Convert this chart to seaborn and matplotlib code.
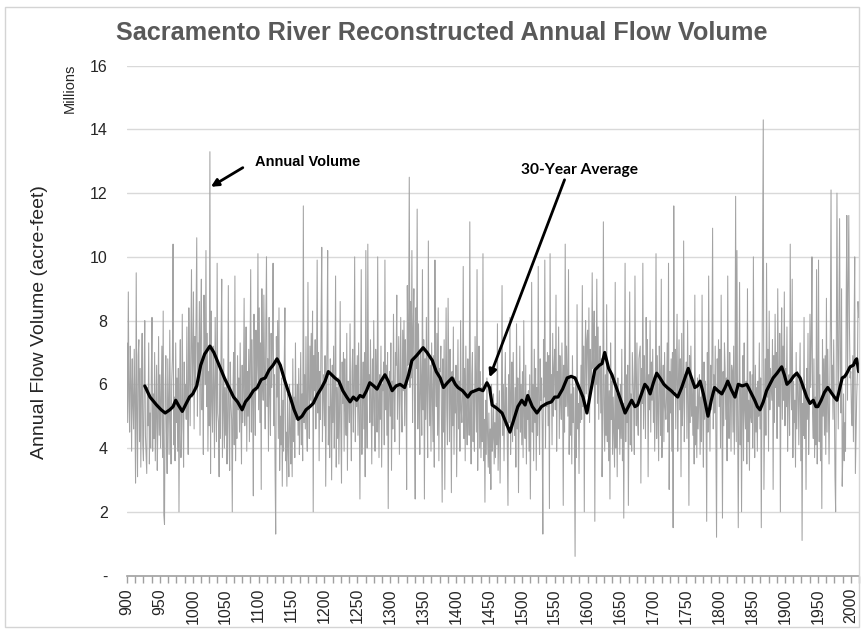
import numpy as np
import pandas as pd
import matplotlib
matplotlib.use("Agg")
import matplotlib.pyplot as plt
from matplotlib.patches import Rectangle
import seaborn as sns

# Reconstructed annual flow volume, millions of acre-feet, one value per year from 900
flow_900s = [
    7.3, 4.8, 8.9, 5.6, 4.5, 7.2, 6.1, 3.9, 6.8, 5.4,
    4.6, 7.1, 5.3, 2.9, 9.5, 5.0, 3.1, 6.9, 7.4, 4.2,
    6.5, 3.4, 5.8, 7.6, 4.1, 3.6, 6.2, 8.0, 4.4, 3.8,
    3.2, 5.9, 4.7, 7.3, 3.5, 5.1, 4.0, 6.4, 8.1, 3.9,
    5.7, 4.3, 7.0, 3.6, 5.2, 6.6, 3.3, 4.8, 7.5, 4.4,
    6.3, 4.0, 5.5, 7.2, 3.7, 8.3, 1.9, 1.6, 5.8, 6.9,
    4.5, 3.2, 6.8, 5.4, 3.8, 7.7, 4.9, 3.5, 6.1, 6.8,
    10.4, 4.1, 5.6, 3.6, 7.3, 4.8, 6.2, 3.9, 6.5, 2.0,
    5.8, 7.4, 3.7, 4.6, 8.2, 5.1, 3.4, 6.7, 5.3, 6.0,
    4.9, 7.8, 5.5, 3.8, 8.4, 6.3, 4.7, 7.1, 9.6, 5.6,
]
flow_1000s = [
    6.8, 8.9, 4.6, 7.5, 5.9, 8.2, 10.6, 5.0, 7.3, 6.1,
    8.6, 4.4, 7.9, 9.3, 5.2, 6.7, 3.8, 8.8, 7.1, 6.0,
    10.2, 5.3, 7.6, 3.9, 6.4, 4.7, 13.3, 3.2, 8.3, 5.5,
    4.5, 7.2, 5.8, 3.7, 8.1, 6.3, 4.2, 9.8, 5.1, 4.8,
    3.1, 6.5, 4.3, 7.4, 9.3, 3.7, 5.2, 6.8, 4.0, 5.9,
    4.4, 6.1, 3.5, 5.0, 9.1, 4.6, 3.3, 6.7, 5.4, 4.9,
    2.0, 5.7, 7.0, 4.1, 9.4, 3.6, 5.5, 4.3, 6.9, 5.2,
    6.2, 4.5, 7.3, 5.1, 3.5, 6.6, 4.8, 5.9, 8.7, 4.7,
    5.6, 7.8, 3.9, 6.4, 5.0, 7.1, 4.2, 6.9, 9.6, 4.5,
    7.4, 5.3, 2.5, 8.2, 6.0, 4.4, 7.7, 5.8, 6.6, 10.1,
]
flow_1100s = [
    5.2, 8.4, 4.8, 7.3, 2.7, 9.0, 6.1, 5.5, 8.8, 6.4,
    4.6, 7.9, 10.0, 5.3, 6.8, 3.9, 8.1, 5.7, 4.4, 7.6,
    5.9, 7.2, 9.8, 4.7, 6.3, 3.4, 1.3, 7.5, 5.6, 8.0,
    4.3, 8.4, 3.3, 5.0, 4.1, 6.2, 2.8, 5.5, 3.9, 6.6,
    8.4, 3.6, 4.5, 2.8, 5.7, 4.0, 3.1, 6.0, 4.6, 3.5,
    5.4, 3.1, 6.8, 4.2, 5.6, 3.7, 7.3, 4.9, 5.1, 6.0,
    4.4, 6.5, 3.8, 5.2, 7.0, 4.1, 5.7, 3.6, 11.6, 4.8,
    6.3, 4.6, 7.5, 5.0, 3.9, 9.2, 5.8, 4.3, 7.2, 5.5,
    7.6, 5.4, 8.3, 2.0, 6.9, 5.8, 7.4, 4.6, 6.2, 9.9,
    5.1, 7.0, 3.6, 6.4, 4.9, 8.1, 10.3, 4.2, 5.7, 6.3,
]
flow_1200s = [
    4.7, 6.9, 2.8, 5.6, 7.3, 10.2, 4.1, 5.3, 3.7, 6.8,
    5.5, 3.0, 6.6, 4.8, 7.2, 4.0, 5.8, 9.4, 3.4, 5.9,
    4.3, 6.2, 3.5, 5.1, 8.6, 4.6, 2.9, 6.7, 5.4, 7.0,
    3.9, 6.8, 5.2, 4.4, 7.6, 3.3, 6.1, 5.7, 4.8, 7.9,
    5.0, 3.6, 6.4, 7.1, 4.5, 5.8, 10.0, 4.2, 6.6, 5.3,
    6.9, 4.4, 7.3, 5.1, 2.4, 6.2, 9.6, 3.8, 5.5, 6.7,
    4.6, 7.0, 3.1, 10.2, 5.4, 4.0, 10.4, 5.9, 6.3, 4.8,
    7.4, 5.5, 3.5, 6.8, 4.7, 8.0, 5.2, 3.9, 7.1, 6.2,
    4.5, 10.0, 5.6, 3.7, 6.3, 4.9, 7.2, 3.4, 6.0, 5.8,
    6.7, 4.1, 9.9, 5.2, 6.6, 4.4, 7.0, 2.1, 5.9, 6.4,
]
flow_1300s = [
    5.0, 7.3, 3.3, 6.1, 4.6, 8.2, 5.7, 4.2, 7.0, 6.6,
    8.8, 4.9, 6.3, 7.5, 3.8, 6.0, 8.1, 5.4, 4.5, 7.7,
    5.8, 8.0, 4.7, 7.4, 6.3, 2.7, 9.1, 6.6, 7.8, 12.5,
    5.9, 8.6, 6.2, 10.2, 4.8, 7.7, 9.0, 5.3, 2.4, 8.4,
    6.5, 11.5, 4.6, 7.9, 5.6, 3.8, 7.1, 6.0, 4.4, 9.6,
    5.2, 7.4, 2.4, 6.8, 4.9, 8.1, 5.5, 3.7, 10.5, 6.0,
    4.7, 6.6, 3.9, 7.3, 5.8, 4.2, 6.9, 3.4, 9.9, 6.2,
    5.3, 7.6, 4.4, 8.4, 3.6, 6.5, 6.4, 7.2, 4.8, 2.3,
    6.8, 4.5, 7.4, 2.7, 5.9, 8.4, 5.2, 4.1, 8.7, 6.3,
    4.2, 7.1, 5.5, 2.6, 6.4, 4.7, 7.8, 3.8, 6.2, 5.1,
]
flow_1400s = [
    6.6, 3.1, 5.3, 7.4, 4.6, 6.1, 3.9, 8.0, 5.2, 4.8,
    5.7, 9.7, 4.3, 6.5, 3.6, 7.2, 5.0, 4.1, 6.8, 5.4,
    4.4, 11.1, 5.1, 3.5, 6.3, 7.0, 4.2, 5.8, 3.9, 7.5,
    6.1, 4.5, 9.6, 3.3, 5.7, 7.2, 4.0, 6.4, 3.7, 5.9,
    4.2, 10.1, 3.6, 4.9, 2.3, 5.5, 3.8, 6.2, 4.4, 3.4,
    5.1, 3.2, 4.6, 2.7, 6.0, 3.9, 4.3, 5.7, 3.5, 4.8,
    3.7, 5.4, 4.1, 7.9, 3.3, 4.5, 5.8, 2.9, 4.9, 5.2,
    9.1, 4.4, 6.0, 3.6, 5.5, 7.0, 4.7, 5.9, 3.9, 2.2,
    6.3, 4.8, 8.1, 3.8, 5.6, 6.7, 4.2, 7.0, 5.1, 4.4,
    5.9, 3.4, 7.9, 4.6, 6.2, 2.6, 5.3, 7.2, 4.5, 6.0,
]
flow_1500s = [
    4.1, 6.4, 3.7, 8.0, 5.0, 4.3, 6.6, 3.5, 5.6, 4.9,
    5.8, 3.9, 6.3, 2.4, 5.1, 9.2, 4.5, 6.0, 3.6, 7.1,
    4.8, 6.5, 3.3, 5.9, 4.4, 9.7, 5.2, 3.8, 6.8, 5.5,
    6.2, 4.6, 1.3, 7.4, 5.6, 9.9, 4.0, 6.7, 5.3, 7.0,
    4.7, 6.9, 2.1, 10.1, 5.4, 6.3, 4.1, 7.6, 5.0, 6.5,
    7.1, 5.2, 8.8, 3.9, 6.4, 5.7, 7.8, 4.3, 6.9, 5.5,
    4.9, 7.3, 5.8, 2.2, 6.6, 4.5, 10.4, 5.3, 7.2, 6.1,
    5.0, 9.6, 3.8, 6.2, 4.4, 5.7, 3.5, 6.9, 4.8, 5.9,
    4.3, 0.6, 6.1, 3.7, 8.5, 4.6, 5.4, 3.2, 5.9, 4.8,
    6.6, 4.9, 9.1, 5.3, 7.2, 2.0, 6.8, 8.0, 5.7, 7.4,
]
flow_1600s = [
    7.7, 5.6, 8.4, 4.8, 7.1, 6.3, 5.9, 9.5, 6.5, 7.0,
    8.3, 1.7, 7.5, 6.0, 9.3, 5.4, 7.8, 4.9, 6.7, 7.2,
    5.1, 6.8, 3.1, 4.6, 11.1, 5.5, 3.9, 6.3, 4.4, 8.5,
    4.2, 6.5, 3.6, 5.8, 2.4, 7.3, 4.9, 6.1, 3.8, 5.6,
    4.5, 3.4, 9.2, 4.0, 5.7, 3.1, 6.2, 4.6, 5.5, 3.8,
    6.0, 4.3, 7.1, 3.6, 5.4, 1.8, 5.9, 9.8, 4.2, 6.3,
    4.8, 6.6, 2.2, 5.3, 8.9, 4.1, 5.7, 3.9, 7.0, 6.2,
    5.5, 3.8, 9.4, 6.1, 4.7, 7.3, 5.0, 4.4, 6.8, 7.0,
    7.2, 2.9, 6.5, 5.4, 9.8, 4.6, 6.9, 5.8, 4.3, 8.1,
    5.9, 7.4, 3.1, 6.3, 5.2, 8.0, 4.5, 6.7, 5.5, 7.1,
]
flow_1700s = [
    4.8, 6.2, 3.9, 5.6, 10.1, 4.3, 6.9, 5.1, 3.6, 7.2,
    6.1, 4.4, 9.3, 3.7, 5.5, 6.6, 4.2, 7.0, 5.3, 4.9,
    5.6, 7.3, 4.5, 9.8, 2.7, 6.4, 5.1, 6.8, 3.9, 7.0,
    1.5, 11.6, 5.8, 7.1, 4.6, 6.5, 8.2, 3.9, 6.0, 7.4,
    5.2, 6.8, 3.1, 7.6, 4.7, 5.5, 10.5, 4.2, 6.3, 5.9,
    6.7, 4.3, 8.0, 5.5, 2.2, 6.9, 4.8, 7.2, 5.0, 6.1,
    4.4, 5.9, 3.5, 8.8, 4.1, 5.3, 3.7, 6.2, 4.6, 5.6,
    6.3, 3.8, 5.6, 4.2, 8.8, 5.0, 3.4, 6.7, 4.9, 6.1,
    5.4, 1.7, 7.0, 4.5, 9.4, 5.8, 3.9, 6.6, 5.2, 6.9,
    10.9, 4.6, 6.3, 5.1, 7.2, 4.4, 1.2, 6.8, 5.7, 7.4,
]
flow_1800s = [
    5.3, 7.1, 4.0, 8.8, 5.6, 1.8, 6.4, 4.7, 7.3, 6.5,
    4.9, 6.2, 3.6, 9.4, 5.5, 4.3, 7.0, 5.8, 3.9, 6.6,
    6.4, 4.5, 7.2, 3.8, 5.9, 11.9, 4.2, 10.2, 5.0, 1.5,
    5.7, 9.2, 4.1, 6.0, 2.0, 5.4, 6.9, 3.6, 7.3, 5.2,
    4.6, 6.1, 3.5, 9.0, 4.2, 5.5, 3.3, 6.4, 5.0, 4.8,
    6.3, 4.0, 10.0, 5.2, 3.7, 6.6, 4.5, 5.9, 3.9, 6.1,
    5.0, 7.3, 4.6, 6.2, 1.5, 5.8, 10.3, 14.3, 2.7, 4.9,
    6.8, 4.4, 9.8, 5.6, 7.1, 3.9, 8.3, 5.2, 6.5, 6.0,
    5.5, 7.4, 2.7, 6.9, 4.8, 8.2, 5.9, 7.0, 4.3, 9.0,
    6.1, 5.3, 7.6, 2.0, 6.7, 8.4, 4.9, 7.2, 5.5, 8.9,
]
flow_1900s = [
    4.7, 6.5, 5.3, 7.8, 3.9, 5.9, 6.3, 4.4, 10.4, 6.0,
    5.2, 9.3, 3.7, 6.1, 4.8, 5.5, 3.4, 7.0, 4.6, 6.4,
    6.2, 4.1, 5.7, 7.3, 3.6, 6.0, 1.1, 5.4, 4.4, 8.1,
    4.3, 5.8, 2.7, 6.5, 4.9, 7.6, 3.8, 5.2, 8.2, 5.9,
    7.4, 10.0, 5.1, 4.3, 6.8, 3.7, 5.6, 4.1, 9.6, 3.5,
    5.9, 9.9, 4.2, 6.3, 3.6, 5.5, 2.1, 7.4, 5.0, 6.8,
    4.4, 6.9, 3.8, 8.7, 4.5, 7.1, 5.4, 3.5, 5.8, 7.9,
    12.1, 5.8, 6.6, 4.9, 7.4, 5.5, 3.1, 2.0, 6.9, 12.0,
    7.2, 4.6, 8.3, 11.2, 6.5, 5.1, 9.0, 2.8, 3.9, 5.7,
    3.6, 4.8, 3.9, 8.6, 11.3, 5.5, 9.1, 11.3, 7.8, 6.2,
]
flow_2000s = [
    6.4, 5.1, 4.7, 6.9, 4.2, 7.6, 10.0, 3.2, 4.5, 5.6,
    6.3, 8.6, 8.1,
]

# Trailing 30-year average (millions of acre-feet)
avg_years = [
    927, 935, 945, 952, 958, 965, 970, 974, 978, 984, 990, 995, 1000, 1006,
    1012, 1018, 1026, 1032, 1040, 1048, 1055, 1062, 1068, 1075, 1080, 1086,
    1092, 1098, 1104, 1110, 1116, 1122, 1128, 1133, 1140, 1148, 1154, 1160,
    1166, 1172, 1178, 1183, 1190, 1196, 1201, 1206, 1211, 1216, 1222, 1228,
    1234, 1239, 1244, 1249, 1254, 1259, 1264, 1269, 1275, 1280, 1286, 1292,
    1297, 1303, 1309, 1315, 1322, 1328, 1333, 1340, 1346, 1350, 1356, 1364,
    1370, 1376, 1381, 1387, 1394, 1399, 1403, 1410, 1418, 1423, 1429, 1435,
    1441, 1447, 1451, 1455, 1462, 1470, 1476, 1482, 1488, 1494, 1500, 1505,
    1509, 1516, 1523, 1530, 1538, 1545, 1550, 1555, 1562, 1569, 1575, 1581,
    1587, 1593, 1599, 1605, 1611, 1618, 1622, 1626, 1632, 1637, 1642, 1647,
    1652, 1657, 1662, 1667, 1672, 1676, 1681, 1687, 1691, 1695, 1700, 1705,
    1710, 1716, 1721, 1727, 1732, 1737, 1743, 1748, 1753, 1758, 1763, 1767,
    1771, 1776, 1780, 1783, 1788, 1793, 1798, 1804, 1809, 1813, 1818, 1824,
    1829, 1835, 1842, 1848, 1854, 1858, 1862, 1867, 1872, 1877, 1882, 1888,
    1895, 1899, 1903, 1908, 1913, 1918, 1923, 1928, 1933, 1938, 1943, 1947,
    1950, 1955, 1960, 1965, 1970, 1975, 1979, 1983, 1987, 1991, 1994, 1999,
    2004, 2007, 2009, 2012,
]
avg_flow = [
    5.95, 5.6, 5.35, 5.2, 5.1, 5.2, 5.3, 5.5, 5.35, 5.15, 5.4, 5.6, 5.7, 5.95,
    6.6, 6.95, 7.2, 7.0, 6.6, 6.2, 5.9, 5.6, 5.45, 5.2, 5.45, 5.6,
    5.8, 5.9, 6.15, 6.2, 6.45, 6.6, 6.8, 6.6, 6.1, 5.6, 5.2, 4.9,
    5.0, 5.2, 5.3, 5.4, 5.7, 5.9, 6.1, 6.4, 6.3, 6.2, 6.1, 5.8,
    5.6, 5.45, 5.6, 5.5, 5.65, 5.6, 5.8, 6.05, 5.95, 5.85, 6.1, 6.3,
    6.1, 5.8, 5.95, 6.0, 5.9, 6.3, 6.75, 6.9, 7.05, 7.15, 7.0, 6.75,
    6.4, 6.2, 5.9, 6.05, 6.2, 6.0, 5.9, 5.8, 5.6, 5.75, 5.8, 5.85,
    5.8, 6.05, 5.9, 5.35, 5.25, 5.1, 4.8, 4.5, 4.9, 5.3, 5.5, 5.35,
    5.65, 5.3, 5.1, 5.3, 5.4, 5.45, 5.6, 5.6, 5.85, 6.2, 6.25, 6.2,
    5.9, 5.6, 5.1, 5.8, 6.45, 6.6, 6.65, 7.0, 6.5, 6.3, 6.0, 5.7,
    5.4, 5.1, 5.3, 5.5, 5.3, 5.35, 5.65, 6.0, 5.9, 5.7, 6.05, 6.35,
    6.2, 6.0, 5.9, 5.8, 5.7, 5.6, 5.9, 6.2, 6.5, 6.2, 5.9, 5.95,
    6.1, 5.7, 5.3, 5.0, 5.5, 5.9, 5.8, 5.7, 5.9, 6.1, 5.85, 5.6,
    6.0, 5.95, 6.0, 5.75, 5.5, 5.3, 5.2, 5.45, 5.8, 6.0, 6.2, 6.35,
    6.55, 6.3, 6.0, 6.1, 6.25, 6.35, 6.2, 5.9, 5.6, 5.4, 5.5, 5.3,
    5.3, 5.5, 5.75, 5.9, 5.75, 5.6, 5.5, 5.85, 6.2, 6.25, 6.35, 6.55,
    6.6, 6.75, 6.8, 6.4,
]

x_tick_years = list(range(900, 2001, 50))
y_ticks = [0, 2, 4, 6, 8, 10, 12, 14, 16]
y_tick_labels = ["-", "2", "4", "6", "8", "10", "12", "14", "16"]

annual_flow = (flow_900s + flow_1000s + flow_1100s + flow_1200s + flow_1300s
               + flow_1400s + flow_1500s + flow_1600s + flow_1700s
               + flow_1800s + flow_1900s + flow_2000s)
annual = pd.DataFrame({"year": np.arange(900, 900 + len(annual_flow)),
                       "flow": annual_flow})
average = pd.DataFrame({"year": avg_years, "flow": avg_flow})

sns.set_theme(style="white")
plt.rcParams["font.family"] = ["Liberation Sans", "DejaVu Sans"]

W, H = 863, 630
fig = plt.figure(figsize=(W / 100, H / 100), dpi=100)
fig.patch.set_facecolor("white")

# thin frame around the chart area
fig.patches.append(Rectangle((5 / W, 3 / H), (W - 9) / W, (H - 10) / H,
                             transform=fig.transFigure, fill=False,
                             edgecolor="#d4d4d4", linewidth=1.0))

left, right, bottom, top = 127, 859, 575.5, 65.7
ax = fig.add_axes([left / W, (H - bottom) / H, (right - left) / W,
                   (bottom - top) / H])

sns.lineplot(data=annual, x="year", y="flow", ax=ax, color="#a3a3a3",
             linewidth=0.75, estimator=None)
sns.lineplot(data=average, x="year", y="flow", ax=ax, color="black",
             linewidth=2.3, estimator=None)

ax.set_xlim(900, 2012)
ax.set_ylim(0, 16)
ax.set_xlabel("")
ax.set_ylabel("")

ax.set_yticks(y_ticks)
ax.set_yticklabels(y_tick_labels, fontsize=11.5, color="#262626")
ax.tick_params(axis="y", length=0, pad=14)
ax.yaxis.grid(True, color="#d9d9d9", linewidth=1.0)
ax.xaxis.grid(False)
ax.set_axisbelow(True)

ax.set_xticks(x_tick_years)
ax.set_xticklabels([str(y) for y in x_tick_years], rotation=90,
                   fontsize=11.5, color="#262626")
ax.set_xticks(np.arange(900, 2013, 12.5), minor=True)
ax.tick_params(axis="x", which="major", length=5, width=1,
               color="#a0a0a0", pad=4, direction="out", bottom=True)
ax.tick_params(axis="x", which="minor", length=5, width=1,
               color="#a0a0a0", direction="out", bottom=True)

for side in ("top", "right", "left"):
    ax.spines[side].set_visible(False)
ax.spines["bottom"].set_color("#a0a0a0")
ax.spines["bottom"].set_linewidth(1.2)

fig.text(442 / W, 1 - 33 / H, "Sacramento River Reconstructed Annual Flow Volume",
         ha="center", va="center", fontsize=18.2, fontweight="bold",
         color="#595959")
fig.text(70 / W, 1 - 88 / H, "Millions", rotation=90, ha="center",
         va="center", fontsize=10.5, color="#262626")
fig.text(40 / W, 1 - 322 / H, "Annual Flow Volume (acre-feet)", rotation=90,
         ha="center", va="center", fontsize=14, color="#262626")

arrow_style = dict(arrowstyle="-|>", color="black", lw=2.0,
                   mutation_scale=11, shrinkA=0, shrinkB=0)
ax.annotate("", xy=(1027.5, 12.2), xytext=(1076, 12.8),
            arrowprops=arrow_style)
ax.text(1094, 12.98, "Annual Volume", ha="left", va="center",
        fontsize=10.5, fontweight="bold", color="black")
ax.annotate("", xy=(1451, 6.22), xytext=(1565, 12.42),
            arrowprops=arrow_style)
ax.text(1588, 12.73, "30-Year Average", ha="center", va="center",
        fontsize=11.2, fontweight="bold", color="black",
        family=["Lato", "DejaVu Sans"])

fig.savefig("out.png", dpi=100, facecolor="white")
